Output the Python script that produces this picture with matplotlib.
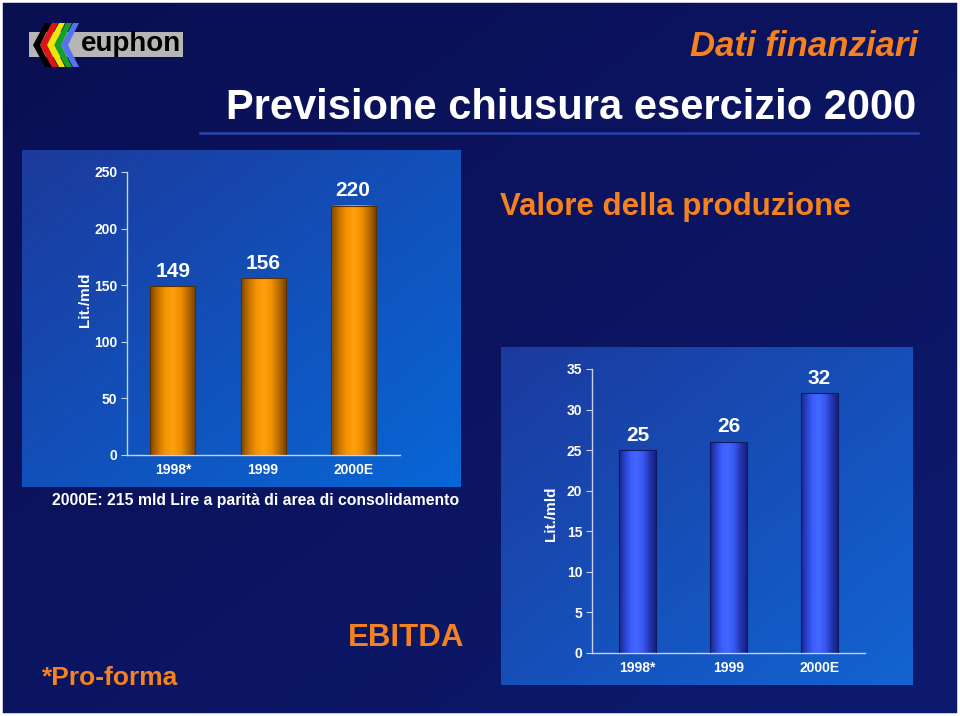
import numpy as np
import matplotlib.pyplot as plt
from matplotlib import font_manager
from matplotlib.colors import LinearSegmentedColormap, to_rgb
from matplotlib.patches import Polygon, Rectangle

plt.rcParams['font.family'] = ['Liberation Sans', 'DejaVu Sans']

# use a narrow face if one is there, else plain Liberation Sans at a smaller size
installed = {f.name for f in font_manager.fontManager.ttflist}
HAS_NARROW = 'Liberation Sans Narrow' in installed
NARROW = ['Liberation Sans Narrow', 'Liberation Sans', 'DejaVu Sans']

# data
categories = ["1998*", "1999", "2000E"]
valore = [149, 156, 220]
ebitda = [25, 26, 32]
valore_ticks = [0, 50, 100, 150, 200, 250]
ebitda_ticks = [0, 5, 10, 15, 20, 25, 30, 35]

W, H = 960, 716
ORANGE = '#f5821f'

fig = plt.figure(figsize=(9.6, 7.16), dpi=100)


def px_axes(x0, y0, x1, y1):
    # axes placed by pixel box (y measured from top)
    return fig.add_axes([x0 / W, 1 - y1 / H, (x1 - x0) / W, (y1 - y0) / H])


def diag_gradient(c0, c1, n=200):
    a, b = np.array(to_rgb(c0)), np.array(to_rgb(c1))
    yy, xx = np.mgrid[0:1:n * 1j, 0:1:n * 1j]
    t = ((xx + yy) / 2)[..., None]
    return a + (b - a) * t


bg = fig.add_axes([0, 0, 1, 1])
bg.imshow(diag_gradient('#0a0f52', '#0d1a6e'), extent=[0, W, H, 0], aspect='auto')
# lighter blue panels behind the two charts
bg.imshow(diag_gradient('#1c3a9c', '#0866d6'), extent=[22, 461, 487, 150], aspect='auto')
bg.imshow(diag_gradient('#1b3a9e', '#1264d2'), extent=[501, 913, 685, 347], aspect='auto')
bg.add_patch(Rectangle((0, 0), W, H, fill=False, edgecolor='white', linewidth=4))
bg.plot([200, 918], [133, 133], color='#2a44a8', linewidth=1.8)

# euphon logo
bg.add_patch(Rectangle((29, 32), 154, 25, facecolor='#b6b6b6', edgecolor='none'))
chev_colors = ['black', '#e01414', '#f2e600', '#12a22a', '#5572f0']
for i in range(len(chev_colors) - 1, -1, -1):
    x0 = 33 + i * 7
    pts = [(x0, 45), (x0 + 12, 23), (x0 + 18, 23), (x0 + 7, 45), (x0 + 18, 67), (x0 + 12, 67)]
    bg.add_patch(Polygon(pts, closed=True, facecolor=chev_colors[i], edgecolor='none'))
bg.text(81, 44, 'euphon', fontsize=20, fontweight='bold', color='black', ha='left', va='center')

bg.text(918, 47, 'Dati finanziari', family=NARROW, fontsize=29 if HAS_NARROW else 25,
        fontweight='bold', style='italic', color=ORANGE, ha='right', va='center')
bg.text(916, 108, 'Previsione chiusura esercizio 2000', family=NARROW,
        fontsize=34 if HAS_NARROW else 30, fontweight='bold', color='white',
        ha='right', va='center')
bg.text(500, 207, 'Valore della produzione', fontsize=22.5, fontweight='bold',
        color=ORANGE, ha='left', va='center')
bg.text(52, 500, '2000E: 215 mld Lire a parità di area di consolidamento', fontsize=11.3,
        fontweight='bold', color='white', ha='left', va='center')
bg.text(464, 638, 'EBITDA', fontsize=22.5, fontweight='bold', color=ORANGE, ha='right', va='center')
bg.text(42, 678, '*Pro-forma', fontsize=19, fontweight='bold', color=ORANGE, ha='left', va='center')
bg.set_xlim(0, W)
bg.set_ylim(H, 0)
bg.axis('off')

orange_cmap = LinearSegmentedColormap.from_list(
    'orange', ['#7a4600', '#c47200', '#f59400', '#ffa010', '#f09000', '#b86a00', '#6e3e00'])
blue_cmap = LinearSegmentedColormap.from_list(
    'blue', ['#1a2688', '#2a44d0', '#3d60ff', '#4266ff', '#3655ee', '#2436b0', '#161f7a'])


def style_axes(ax, ticks, top, label, label_x, label_y):
    ax.patch.set_alpha(0)
    for s in ['top', 'right']:
        ax.spines[s].set_visible(False)
    for s in ['left', 'bottom']:
        ax.spines[s].set_color('#c8d0ea')
        ax.spines[s].set_linewidth(1)
    ax.set_ylim(0, top)
    ax.set_yticks(ticks)
    ax.set_xticks(range(len(categories)))
    ax.set_xticklabels(categories, fontsize=10, fontweight='bold', color='white')
    for t in ax.get_yticklabels():
        t.set_family(NARROW)
        t.set_fontsize(11 if HAS_NARROW else 10)
        t.set_fontweight('bold')
        t.set_color('white')
    ax.tick_params(axis='y', length=4, color='#c8d0ea', pad=3)
    ax.tick_params(axis='x', length=0, pad=6)
    ax.set_ylabel(label, fontsize=11, fontweight='bold', color='white', va='center')
    ax.yaxis.set_label_coords(label_x, label_y)


def gradient_bars(ax, values, width, cmap, edge):
    bars = ax.bar(range(len(values)), values, width=width, color='none',
                  edgecolor=edge, linewidth=0.8, zorder=3)
    grad = np.linspace(0, 1, 256).reshape(1, -1)
    for b, v in zip(bars, values):
        x0 = b.get_x()
        ax.imshow(grad, extent=[x0, x0 + b.get_width(), 0, v], aspect='auto',
                  cmap=cmap, zorder=2)
        ax.annotate(str(v), (b.get_x() + b.get_width() / 2, v), xytext=(0, 4),
                    textcoords='offset points', ha='center', va='bottom',
                    fontsize=15, fontweight='bold', color='white')


ax1 = px_axes(127, 172, 400, 455)
gradient_bars(ax1, valore, 0.5, orange_cmap, '#5a3000')
ax1.set_xlim(-0.51, 2.52)
style_axes(ax1, valore_ticks, 250, 'Lit./mld', -0.153, 0.55)

ax2 = px_axes(592, 369, 865, 653)
gradient_bars(ax2, ebitda, 0.4, blue_cmap, '#101860')
ax2.set_xlim(-0.5, 2.5)
style_axes(ax2, ebitda_ticks, 35, 'Lit./mld', -0.15, 0.49)

fig.savefig('out.png', dpi=100)
